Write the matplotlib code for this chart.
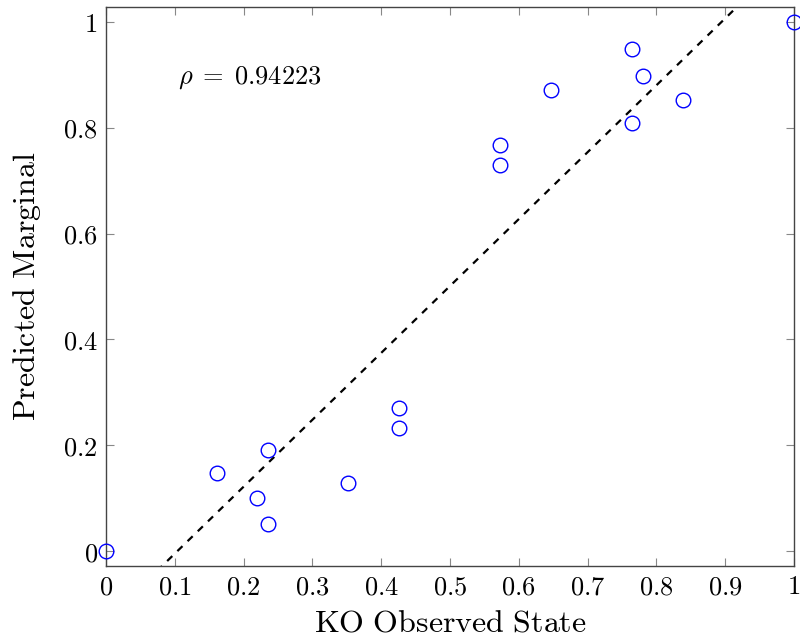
import matplotlib
matplotlib.use("Agg")
import matplotlib.pyplot as plt
import numpy as np

plt.rcParams['mathtext.fontset'] = 'cm'

# Data
ko_observed = [0.0, 0.161, 0.235, 0.219, 0.235, 0.352, 0.426, 0.426,
               0.573, 0.573, 0.647, 0.765, 0.780, 0.765, 0.839, 1.0]
predicted = [0.0, 0.147, 0.191, 0.100, 0.051, 0.129, 0.270, 0.232,
             0.767, 0.730, 0.871, 0.949, 0.898, 0.809, 0.853, 1.0]
fit_slope = 1.264
fit_intercept = -0.131
rho_value = 0.94223
xticks = [0, 0.1, 0.2, 0.3, 0.4, 0.5, 0.6, 0.7, 0.8, 0.9, 1.0]
xtick_labels = ['0', '0.1', '0.2', '0.3', '0.4', '0.5', '0.6', '0.7', '0.8', '0.9', '1']
yticks = [0, 0.2, 0.4, 0.6, 0.8, 1.0]
ytick_labels = ['0', '0.2', '0.4', '0.6', '0.8', '1']

fig = plt.figure(figsize=(8, 6.41), dpi=100)
ax = fig.add_axes([0.1325, 0.117, 0.86, 0.872])

ax.plot(ko_observed, predicted, linestyle='none', marker='o', markersize=10.5,
        markerfacecolor='none', markeredgecolor='#0000ff', markeredgewidth=1.0,
        clip_on=False, zorder=3)

xs = np.array([0.0, 1.0])
ax.plot(xs, fit_slope * xs + fit_intercept, color='black', linestyle=(0, (3.2, 3.2)),
        linewidth=1.6, zorder=2)

ax.set_xlim(0, 1)
ax.set_ylim(-0.028, 1.028)

ax.set_xticks(xticks)
ax.set_xticklabels(['$' + t + '$' for t in xtick_labels], fontsize=19)
ax.set_yticks(yticks)
ax.set_yticklabels(['$' + t + '$' for t in ytick_labels], fontsize=19)

ax.tick_params(direction='in', top=True, right=True, length=6, width=0.8,
               color='#888888', pad=6)
for s in ax.spines.values():
    s.set_color('#444444')
    s.set_linewidth(1.0)

ax.set_xlabel(r'$\mathrm{KO\ Observed\ State}$', fontsize=23, labelpad=5)
ax.set_ylabel(r'$\mathrm{Predicted\ Marginal}$', fontsize=23, labelpad=14)

ax.text(0.209, 0.894, r'$\rho\;=\;%.5f$' % rho_value, fontsize=19,
        ha='center', va='center')

fig.savefig('out.png', dpi=100)
